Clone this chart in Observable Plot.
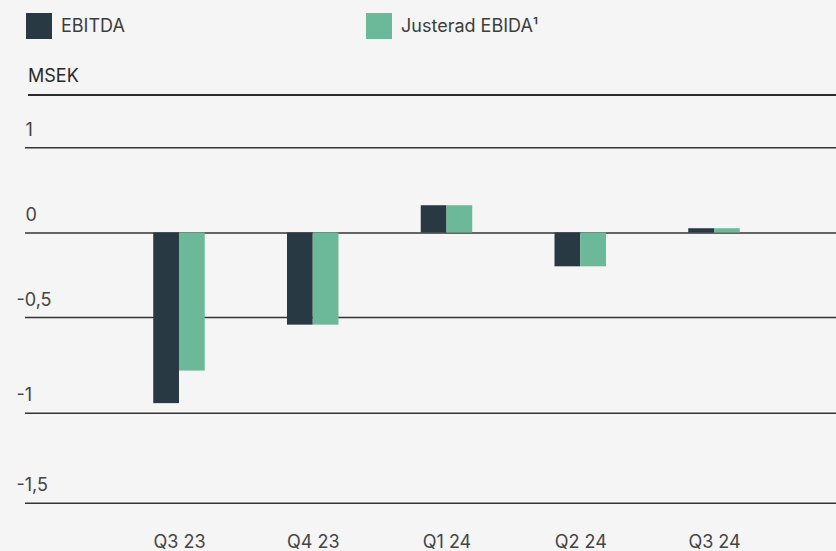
<!DOCTYPE html>
<html>
<head>
<meta charset="utf-8">
<script src="https://cdn.jsdelivr.net/npm/d3@7"></script>
<script src="https://cdn.jsdelivr.net/npm/@observablehq/plot@0.6"></script>
<style>
  html, body { margin: 0; padding: 0; background: #f4f5f4; }
  body { width: 836px; height: 551px; overflow: hidden; font-family: Inter, "Noto Sans", sans-serif; }
  #head { position: relative; height: 97px; width: 836px; }
  .sw { position: absolute; top: 13px; width: 26px; height: 26px; }
  .lt { position: absolute; top: 14px; font-size: 18px; line-height: 24px; color: #3d3d3d; }
  #unit { position: absolute; left: 28px; top: 64px; font-size: 18px; line-height: 24px; color: #2a2a2a; }
  #unitline { position: absolute; left: 28px; right: 0; top: 94px; height: 2px; background: #2b2b2b; }
  svg { display: block; }
</style>
</head>
<body>
<div id="head"></div>
<div id="chart"></div>
<script>
const quarters = ["Q3 23", "Q4 23", "Q1 24", "Q2 24", "Q3 24"];
const ebitda = [-0.95, -0.54, 0.32, -0.20, 0.05];
const justerad = [-0.78, -0.54, 0.32, -0.20, 0.05];
const seriesNames = ["EBITDA", "Justerad EBIDA\u00b9"];
const seriesColors = ["#283944", "#6cb99a"];
const yTicks = [1, 0, -0.5, -1, -1.5];
const yTickLabels = ["1", "0", "-0,5", "-1", "-1,5"];
const unitLabel = "MSEK";

// header: legend + unit
const head = document.getElementById("head");
const legendX = [[26, 61], [366, 401]];
seriesNames.forEach((name, i) => {
  const sw = document.createElement("div");
  sw.className = "sw";
  sw.style.left = legendX[i][0] + "px";
  sw.style.background = seriesColors[i];
  head.appendChild(sw);
  const t = document.createElement("div");
  t.className = "lt";
  t.style.left = legendX[i][1] + "px";
  t.textContent = name;
  head.appendChild(t);
});
const u = document.createElement("div");
u.id = "unit"; u.textContent = unitLabel; head.appendChild(u);
const ul = document.createElement("div");
ul.id = "unitline"; head.appendChild(ul);

const dataE = quarters.map((q, i) => ({quarter: q, value: ebitda[i]}));
const dataJ = quarters.map((q, i) => ({quarter: q, value: justerad[i]}));
const ticks = yTicks.map((v, i) => ({v, label: yTickLabels[i]}));

const half = 25.75;
const chart = Plot.plot({
  width: 836,
  height: 454,
  marginLeft: 25,
  marginRight: 0,
  marginTop: 0,
  marginBottom: 0,
  style: {background: "transparent", fontFamily: "Inter, 'Noto Sans', sans-serif", fontSize: "18px"},
  x: {type: "band", domain: quarters, range: [112.1, 780.9], paddingInner: 0.615, paddingOuter: 0.3075, align: 0.5, round: false, axis: null},
  y: {type: "linear", domain: [-1.5, -1, -0.5, 0, 1], range: [405.7, 315.7, 220, 135.5, 50.3], axis: null},
  marks: [
    Plot.ruleY(ticks, {y: "v", stroke: "#353535", strokeWidth: 1.5}),
    Plot.barY(dataE, {x: "quarter", y: "value", fill: seriesColors[0], insetRight: half}),
    Plot.barY(dataJ, {x: "quarter", y: "value", fill: seriesColors[1], insetLeft: half}),
    Plot.text(ticks.filter(d => d.v >= 0), {y: "v", text: "label", frameAnchor: "left", textAnchor: "start", lineAnchor: "middle", dy: -17.5, fill: "#444", fontSize: 18}),
    Plot.text(ticks.filter(d => d.v < 0), {y: "v", text: "label", frameAnchor: "left", textAnchor: "start", lineAnchor: "middle", dx: -9, dy: -17.5, fill: "#444", fontSize: 18}),
    Plot.text(quarters, {x: d => d, text: d => d, frameAnchor: "bottom", lineAnchor: "middle", dy: -9.5, fill: "#444", fontSize: 18})
  ]
});
document.getElementById("chart").appendChild(chart);
</script>
</body>
</html>
